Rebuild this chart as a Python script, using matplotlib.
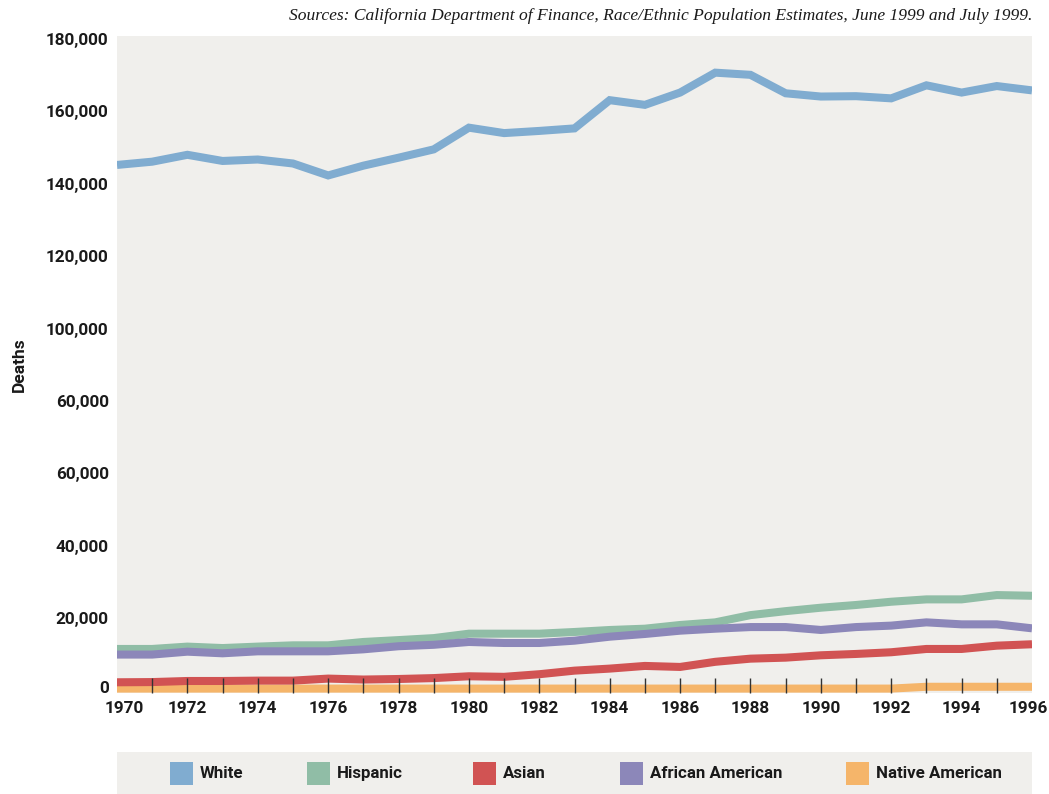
import matplotlib
matplotlib.use("Agg")
import matplotlib.pyplot as plt
import matplotlib.transforms as mtransforms
from matplotlib.patches import Rectangle

# data
years = list(range(1970, 1997))
white = [145200, 146100, 148000, 146300, 146700, 145600, 142300, 145000, 147200,
         149500, 155500, 154000, 154600, 155300, 163100, 161800, 165200, 170700,
         170100, 165000, 164100, 164200, 163600, 167200, 165200, 167000, 165800]
hispanic = [11450, 11450, 12100, 11700, 12100, 12450, 12450, 13380, 13900,
            14450, 15670, 15670, 15670, 16140, 16690, 17050, 18070, 18800,
            20800, 21900, 22850, 23600, 24500, 25150, 25150, 26340, 26150]
asian = [2240, 2300, 2600, 2600, 2700, 2700, 3260, 3000, 3150,
         3400, 3900, 3750, 4470, 5460, 6020, 6760, 6480, 7900,
         8770, 9050, 9700, 10070, 10540, 11450, 11450, 12360, 12750]
african_american = [9900, 9900, 10700, 10250, 10800, 10800, 10800, 11350, 12200,
                    12600, 13380, 13100, 13100, 13740, 14840, 15590, 16500, 17050,
                    17500, 17500, 16700, 17500, 17900, 18800, 18250, 18250, 17150]
native_american = [500] * 23 + [1000] * 4

series_names = ["White", "Hispanic", "Asian", "African American", "Native American"]
series_values = [white, hispanic, asian, african_american, native_american]
colors = ["#80acd0", "#90bda6", "#d15353", "#8c87b9", "#f5b56a"]

ytick_values = [0, 20000, 40000, 60000, 80000, 100000, 120000, 140000, 160000, 180000]
# the original labels the 80,000 gridline as "60,000"
ytick_labels = ["0", "20,000", "40,000", "60,000", "60,000", "100,000",
                "120,000", "140,000", "160,000", "180,000"]

BG = "#f0efec"
FONT = "Roboto"


def nudge(txt, dx_px, dy_px):
    txt.set_transform(txt.get_transform() +
                      mtransforms.ScaledTranslation(dx_px / 100, dy_px / 100,
                                                    fig.dpi_scale_trans))


fig = plt.figure(figsize=(10.49, 7.94), dpi=100)
ax = fig.add_axes([117 / 1049, 1 - 693 / 794, 915 / 1049, 657 / 794])
ax.set_facecolor(BG)
ax.set_axisbelow(False)  # tick marks sit on top of the lines

# draw bottom series first so purple sits on green etc.
order = [4, 2, 1, 3, 0]
for i in order:
    ax.plot(years, series_values[i], color=colors[i], lw=5.8,
            solid_capstyle="butt", solid_joinstyle="miter", zorder=2)

ax.set_xlim(1970, 1996)
ax.set_ylim(-720, 180830)

for s in ax.spines.values():
    s.set_visible(False)

# labels on even years, a tick mark on every inner year
ax.xaxis.remove_overlapping_locs = False
ax.set_xticks(list(range(1970, 1997, 2)))
ax.set_xticks(list(range(1971, 1996)), minor=True)
ax.tick_params(axis="x", which="major", length=0, pad=6)
ax.tick_params(axis="x", which="minor", direction="in", length=10.5, width=1,
               color="#333333")
ax.set_yticks(ytick_values)
ax.set_yticklabels(ytick_labels)
ax.tick_params(axis="y", length=0, pad=6)

for lab in ax.get_xticklabels() + ax.get_yticklabels():
    lab.set_fontfamily(FONT)
    lab.set_fontweight("bold")
    lab.set_fontsize(12.3)
    lab.set_color("#1a1a1a")

xlabs = ax.get_xticklabels()
nudge(xlabs[0], 7, 0)
nudge(xlabs[-1], -4, 0)
# the zero label sits a little above its line in the original
nudge(ax.get_yticklabels()[0], 0, 3)

ax.set_ylabel("Deaths", fontfamily=FONT, fontweight="bold", fontsize=12.5,
              color="#1a1a1a")
ax.yaxis.set_label_coords(-0.099, 0.5)

fig.text(1032 / 1049, 1 - 16 / 794,
         "Sources: California Department of Finance, Race/Ethnic Population Estimates, June 1999 and July 1999.",
         ha="right", va="center", fontfamily="Liberation Serif", fontstyle="italic",
         fontsize=12.6, color="#1a1a1a")

# legend band along the bottom
lax = fig.add_axes([117 / 1049, 0, 915 / 1049, 42 / 794])
lax.set_facecolor(BG)
lax.set_xlim(117, 1032)
lax.set_ylim(0, 42)
lax.set_xticks([])
lax.set_yticks([])
for s in lax.spines.values():
    s.set_visible(False)

legend_x = [170, 307, 473, 620, 846]
for name, c, x0 in zip(series_names, colors, legend_x):
    lax.add_patch(Rectangle((x0, 9), 23, 23, color=c, lw=0))
    lax.text(x0 + 30, 20.5, name, ha="left", va="center",
             fontfamily=FONT, fontweight="bold", fontsize=12.2,
             color="#1a1a1a")

fig.savefig("out.png", dpi=100, facecolor="white")
